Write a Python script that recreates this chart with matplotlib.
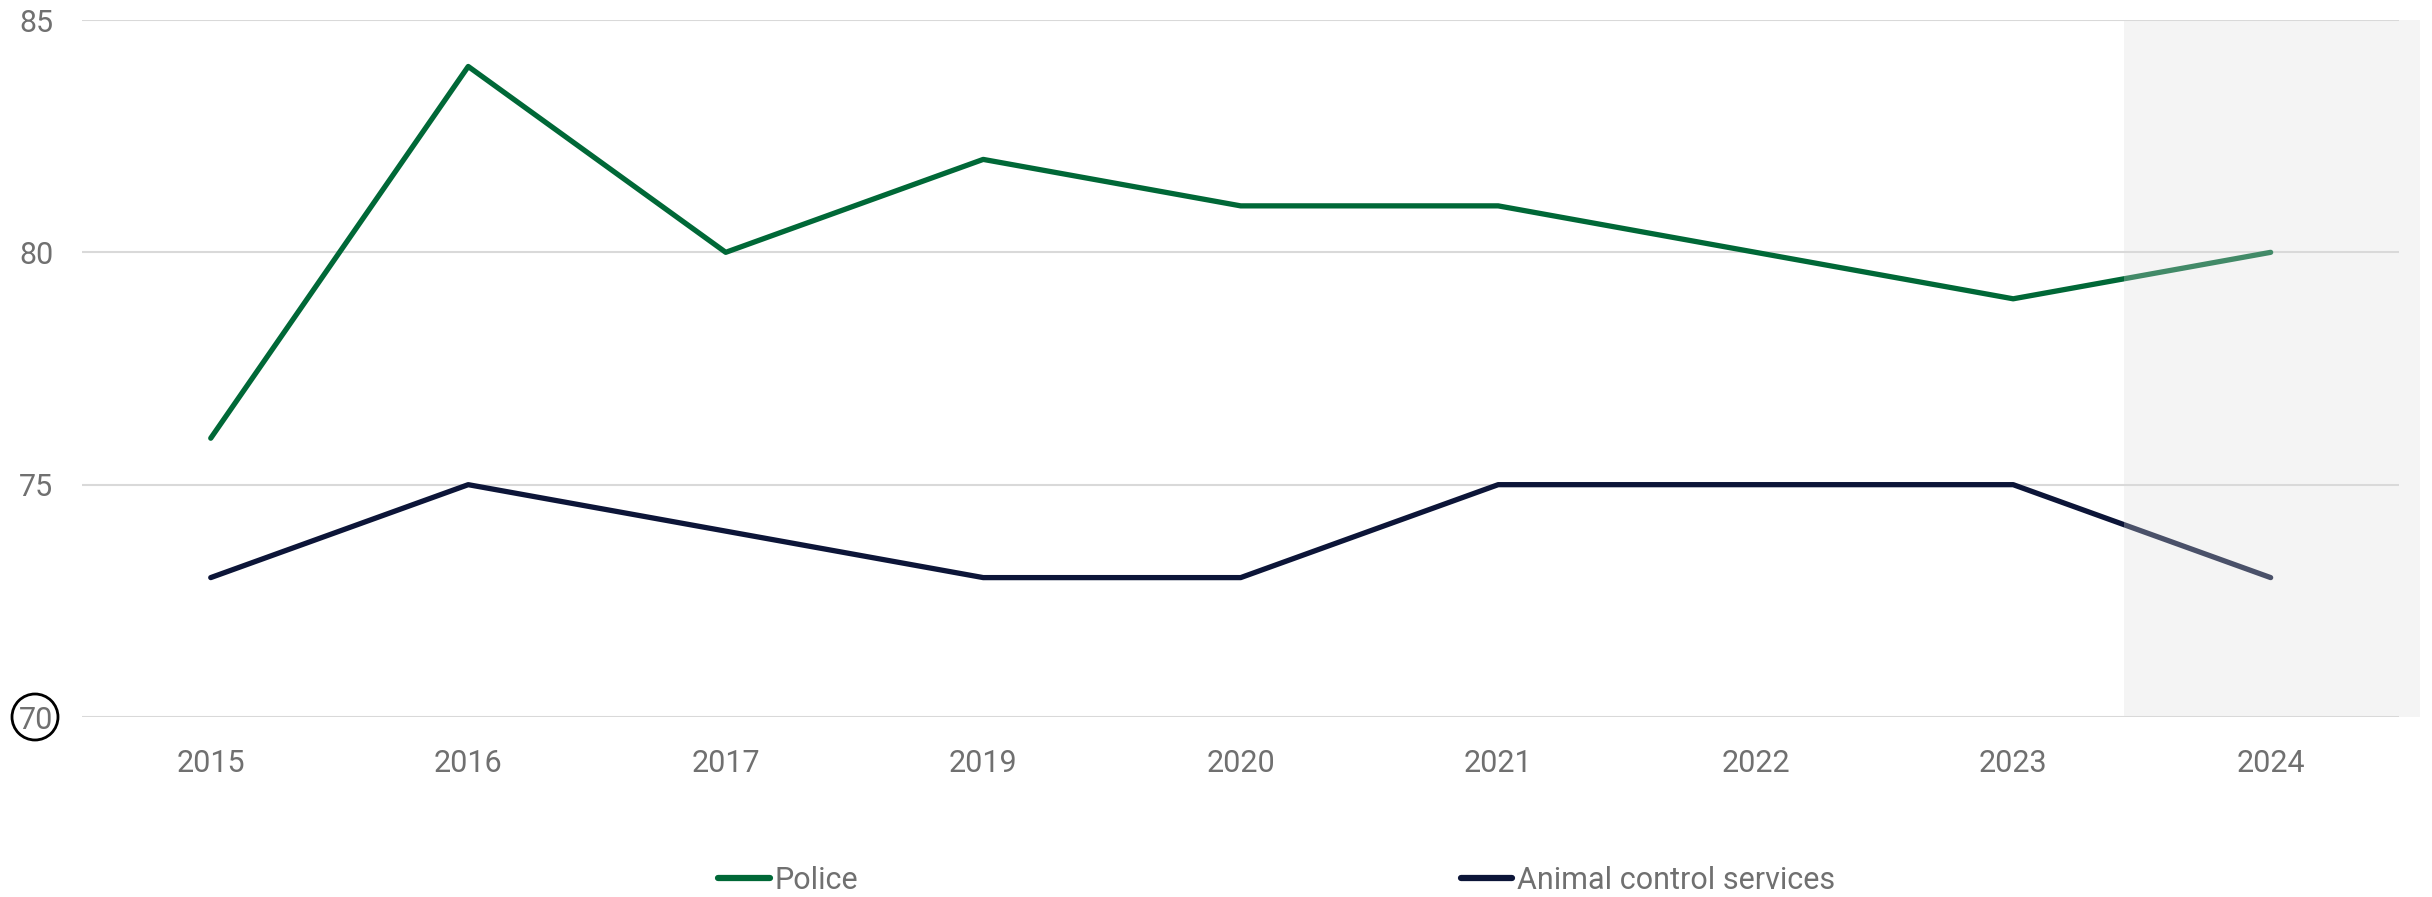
import matplotlib
matplotlib.use("Agg")
import matplotlib.pyplot as plt
from matplotlib.patches import Ellipse

years = ["2015", "2016", "2017", "2019", "2020", "2021", "2022", "2023", "2024"]
police = [76, 84, 80, 82, 81, 81, 80, 79, 80]
animal_control = [73, 75, 74, 73, 73, 75, 75, 75, 73]
y_ticks = [70, 75, 80, 85]

GREEN = "#006837"
NAVY = "#0c1538"
TEXT = "#707070"

plt.rcParams["font.family"] = ["Roboto", "DejaVu Sans"]

fig = plt.figure(figsize=(24.32, 8.97), dpi=100)
ax = fig.add_axes([82 / 2432, (897 - 717) / 897, (2420 - 82) / 2432, (717 - 20) / 897])

x = list(range(len(years)))
ax.plot(x, police, color=GREEN, lw=3.8, solid_capstyle="round", zorder=3, label="Police")
ax.plot(x, animal_control, color=NAVY, lw=3.8, solid_capstyle="round", zorder=3,
        label="Animal control services")

# gridlines
for v in y_ticks:
    ax.hlines(v, -0.5, 8.5, color="#d9d9d9", lw=1.5, zorder=1)

# shaded latest-year band, drawn over the lines so they look faded
ax.axvspan(7.43, 8.58, color="#dcdcdc", alpha=0.3, lw=0, zorder=4)

ax.set_xlim(-0.5, 8.58)
ax.set_ylim(70, 85)
ax.set_xticks(x)
ax.set_xticklabels(years)
ax.set_yticks(y_ticks)
ax.tick_params(length=0, labelsize=22, labelcolor=TEXT)
ax.tick_params(axis="x", pad=23)
ax.tick_params(axis="y", pad=20.5)
for s in ax.spines.values():
    s.set_visible(False)

# circle around the 70 label
circ = Ellipse((35 / 2432, (897 - 717) / 897), 46 / 2432, 46 / 897,
               transform=fig.transFigure, fill=False, ec="black", lw=2)
fig.patches.append(circ)

leg = fig.legend(loc="center", bbox_to_anchor=(0.525, (897 - 880) / 897), ncol=2,
                 frameon=False, fontsize=22, handlelength=1.7, handletextpad=0.15,
                 columnspacing=19.7)
for t in leg.get_texts():
    t.set_color(TEXT)
for h in leg.legend_handles:
    h.set_linewidth(4.5)

fig.savefig("out.png", dpi=100, facecolor="white")
